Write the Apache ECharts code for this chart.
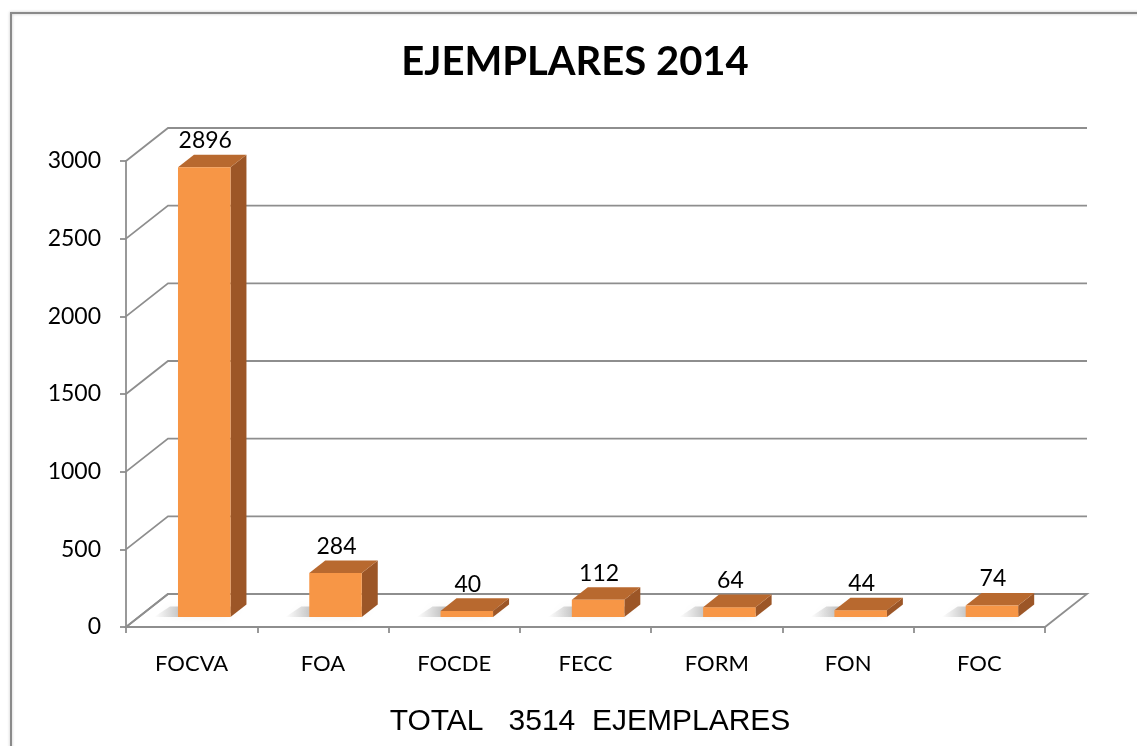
<!DOCTYPE html>
<html lang="es">

<head>
    <meta charset="UTF-8">
    <title>EJEMPLARES 2014</title>
    <script src="https://cdn.jsdelivr.net/npm/echarts@6/dist/echarts.min.js"></script>
    <style>
        html, body { margin: 0; padding: 0; background: #fff; }
    </style>
</head>

<body>
    <div id="main" style="width: 1137px;height:746px;"></div>
    <script type="text/javascript">
        // datos del gráfico
        var categories = ['FOCVA', 'FOA', 'FOCDE', 'FECC', 'FORM', 'FON', 'FOC'];
        var ejemplares = [2896, 284, 40, 112, 64, 44, 74];
        var yTicks = [0, 500, 1000, 1500, 2000, 2500, 3000];

        // profundidad del efecto 3D (en píxeles)
        var DEPTH_X = 42, DEPTH_Y = -33;
        var BAR_OFF = 0.3, BAR_DEPTH = 0.38;

        var myChart = echarts.init(document.getElementById('main'));

        // pared de fondo: línea diagonal + línea trasera por cada marca
        function renderGrid(params, api) {
            var cs = params.coordSys;
            var v = api.value(0);
            var y = api.coord([0, v])[1];
            var x0 = cs.x, x1 = cs.x + cs.width;
            var children = [];
            if (v === 0) {
                // suelo
                children.push({
                    type: 'polygon',
                    shape: { points: [[x0, y], [x1, y], [x1 + DEPTH_X, y + DEPTH_Y], [x0 + DEPTH_X, y + DEPTH_Y]] },
                    style: { fill: '#fff', stroke: '#8e8e8e', lineWidth: 1.8 }
                });
            }
            children.push({
                type: 'polyline',
                shape: { points: [[x0, y], [x0 + DEPTH_X, y + DEPTH_Y], [x1 + DEPTH_X, y + DEPTH_Y]] },
                style: { stroke: '#8e8e8e', lineWidth: 1.8, fill: null }
            });
            return { type: 'group', children: children };
        }

        // barra con cara frontal, lateral y superior
        function renderBar(params, api) {
            var idx = api.value(0);
            var val = api.value(1);
            var base = api.coord([idx, 0]);
            var top = api.coord([idx, val]);
            var w = api.size([1, 0])[0] * 0.4;
            var ox = DEPTH_X * BAR_OFF, oy = DEPTH_Y * BAR_OFF;
            var dx = DEPTH_X * BAR_DEPTH, dy = DEPTH_Y * BAR_DEPTH;
            var l = base[0] + ox - w / 2, r = l + w;
            var b = base[1] + oy, t = top[1] + oy;
            var sl = l - 24;
            return {
                type: 'group',
                children: [{
                    // sombra sobre el suelo
                    type: 'polygon',
                    shape: { points: [[sl, b], [r - 6, b], [r + dx - 6, b + dy + 2], [sl + dx, b + dy + 2]] },
                    style: {
                        fill: new echarts.graphic.LinearGradient(sl, 0, l + 8, 0, [
                            { offset: 0, color: 'rgba(0,0,0,0)' },
                            { offset: 1, color: 'rgba(0,0,0,0.26)' }
                        ], true),
                        shadowBlur: 8,
                        shadowColor: 'rgba(0,0,0,0.2)'
                    }
                }, {
                    type: 'polygon',
                    shape: { points: [[r, t], [r + dx, t + dy], [r + dx, b + dy], [r, b]] },
                    style: { fill: '#9c5627' }
                }, {
                    type: 'polygon',
                    shape: { points: [[l, t], [r, t], [r + dx, t + dy], [l + dx, t + dy]] },
                    style: { fill: '#b8692f' }
                }, {
                    type: 'rect',
                    shape: { x: l, y: t, width: w, height: b - t },
                    style: { fill: '#f79646' }
                }, {
                    type: 'text',
                    x: (l + r) / 2 + 1,
                    y: t + dy - 14,
                    style: {
                        text: String(val),
                        fill: '#000',
                        font: '23px Lato',
                        align: 'center',
                        verticalAlign: 'middle'
                    }
                }]
            };
        }

        myChart.setOption({
            animation: false,
            graphic: [{
                type: 'rect',
                shape: { x: 11, y: 13, width: 1200, height: 800 },
                style: { fill: null, stroke: '#8a8a8a', lineWidth: 2, shadowBlur: 3, shadowColor: 'rgba(0,0,0,0.25)' }
            }, {
                type: 'text',
                x: 575, y: 62,
                style: {
                    text: 'EJEMPLARES 2014',
                    font: 'bold 40px Lato',
                    fill: '#000',
                    align: 'center',
                    verticalAlign: 'middle'
                }
            }, {
                type: 'text',
                x: 590, y: 722,
                style: {
                    text: 'TOTAL   3514  EJEMPLARES',
                    font: '30px "Liberation Sans"',
                    fill: '#000',
                    align: 'center',
                    verticalAlign: 'middle'
                }
            }],
            grid: {
                left: 126,
                right: 92,
                top: 161,
                bottom: 119
            },
            xAxis: {
                type: 'category',
                data: categories,
                axisLine: { lineStyle: { color: '#8e8e8e', width: 1.8 } },
                axisTick: { show: true, length: 6, lineStyle: { color: '#8e8e8e', width: 1.8 } },
                axisLabel: { color: '#000', fontFamily: 'Lato', fontSize: 22, margin: 26 }
            },
            yAxis: {
                type: 'value',
                min: 0,
                max: 3000,
                interval: 500,
                axisLine: { show: true, lineStyle: { color: '#8e8e8e', width: 1.8 } },
                axisTick: { show: true, length: 6, lineStyle: { color: '#8e8e8e', width: 1.8 } },
                axisLabel: {
                    color: '#000', fontFamily: 'Lato', fontSize: 23, margin: 25,
                    formatter: function (v) { return String(v); }
                },
                splitLine: { show: false }
            },
            series: [{
                type: 'custom',
                renderItem: renderGrid,
                data: yTicks.map(function (v) { return [v]; }),
                encode: { y: 0 },
                silent: true,
                z: 1
            }, {
                type: 'custom',
                renderItem: renderBar,
                data: ejemplares.map(function (v, i) { return [i, v]; }),
                encode: { x: 0, y: 1 },
                z: 3
            }]
        });
    </script>
</body>

</html>
